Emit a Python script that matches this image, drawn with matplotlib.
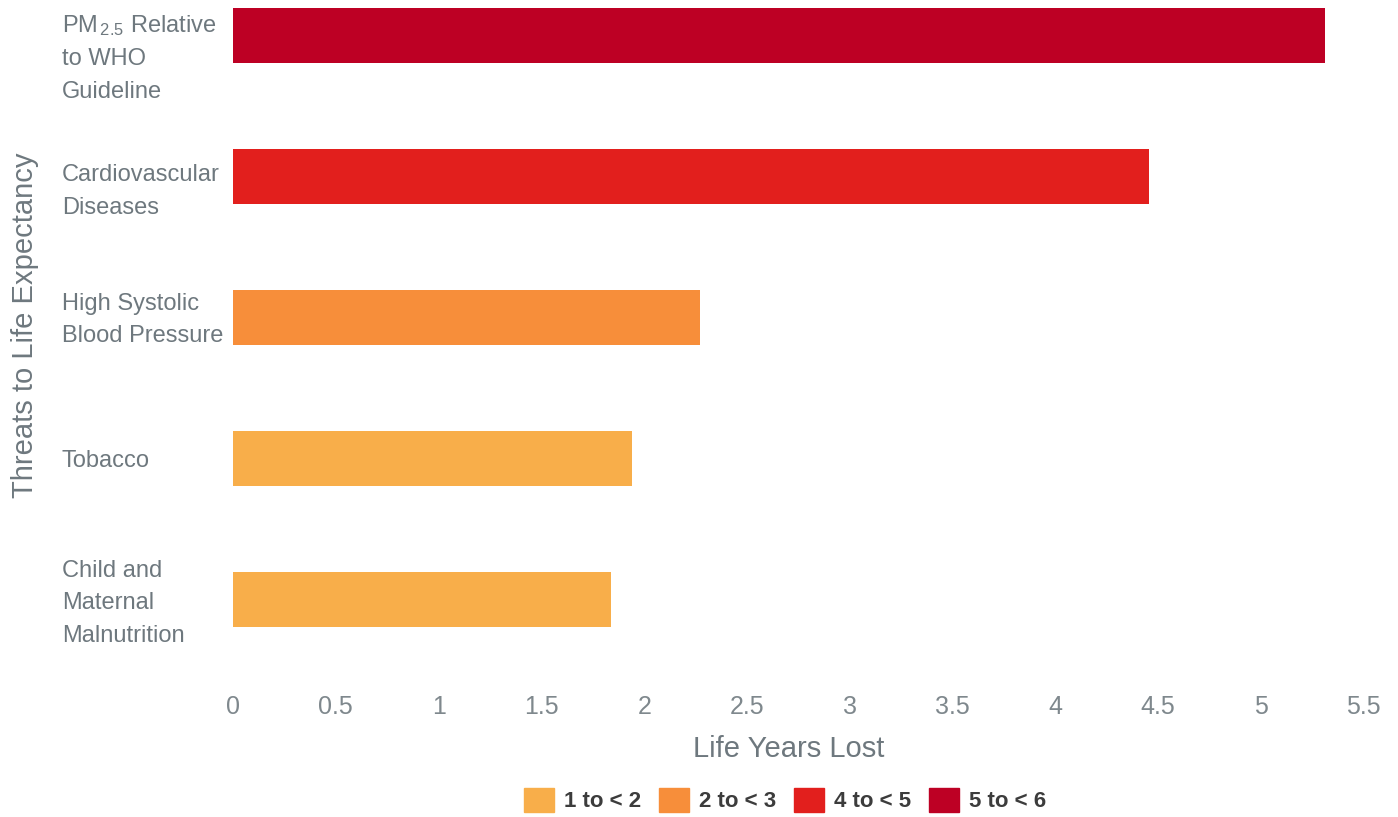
import matplotlib
matplotlib.use("Agg")
import matplotlib.pyplot as plt
import matplotlib.patches as mpatches
import matplotlib.transforms as mtransforms
import numpy as np

plt.rcParams['font.family'] = ['Liberation Sans', 'DejaVu Sans']
plt.rcParams['mathtext.fontset'] = 'custom'
plt.rcParams['mathtext.rm'] = 'Liberation Sans'
plt.rcParams['mathtext.it'] = 'Liberation Sans'

categories = ["PM$_{\\,2.5}$ Relative\nto WHO\nGuideline",
              "Cardiovascular\nDiseases",
              "High Systolic\nBlood Pressure",
              "Tobacco",
              "Child and\nMaternal\nMalnutrition"]
values = [5.31, 4.455, 2.27, 1.94, 1.84]
bins = ["5 to < 6", "4 to < 5", "2 to < 3", "1 to < 2", "1 to < 2"]
legend_labels = ["1 to < 2", "2 to < 3", "4 to < 5", "5 to < 6"]
bin_colors = {"1 to < 2": "#F8AE4A", "2 to < 3": "#F78E3A",
              "4 to < 5": "#E21F1D", "5 to < 6": "#BD0024"}
xticks = [0, 0.5, 1, 1.5, 2, 2.5, 3, 3.5, 4, 4.5, 5, 5.5]
xticklabels = ["0", "0.5", "1", "1.5", "2", "2.5", "3", "3.5", "4", "4.5", "5", "5.5"]

W, H = 1398, 817
fig = plt.figure(figsize=(W / 100, H / 100), dpi=100)
x0px, unit = 233, 205.6
xmax = 5.6
left = x0px / W
right = (x0px + xmax * unit) / W
top_px, bot_px = 0, 660
ax = fig.add_axes([left, 1 - bot_px / H, right - left, (bot_px - top_px) / H])

y = np.arange(len(categories))
ax.barh(y, values, height=0.39, color=[bin_colors[b] for b in bins])
ax.set_xlim(0, xmax)
ax.set_ylim(4 + (660 - 600) / 141, -35 / 141)

for s in ax.spines.values():
    s.set_visible(False)

text_gray = "#6E787E"
ax.set_xticks(xticks)
ax.set_xticklabels(xticklabels, fontsize=18, color="#7F888D")
ax.tick_params(axis='x', length=0, pad=25)

ax.set_yticks(y)
ax.set_yticklabels(categories, fontsize=17, color=text_gray, linespacing=1.6)
ax.tick_params(axis='y', length=0, pad=(x0px - 62) * 0.72)
offsets_pt = [11, 5.5, -3.5, 0, -3]
for lab, off in zip(ax.get_yticklabels(), offsets_pt):
    lab.set_horizontalalignment('left')
    lab.set_transform(lab.get_transform() +
                      mtransforms.ScaledTranslation(0, -off / 72, fig.dpi_scale_trans))

ax.set_xlabel("Life Years Lost", fontsize=21, color=text_gray, labelpad=12)
ax.xaxis.label.set_x(0.483)
fig.text(25 / W, 1 - 325 / H, "Threats to Life Expectancy", rotation=90,
         fontsize=21, color=text_gray, ha='center', va='center')

handles = [mpatches.Patch(color=bin_colors[l]) for l in legend_labels]
fig.legend(handles, legend_labels, loc='center', ncol=4,
           bbox_to_anchor=(785 / W, 1 - 800 / H), frameon=False,
           prop={'size': 16, 'weight': 'bold'}, labelcolor="#3C3C3C",
           handlelength=1.35, handleheight=1.35, handletextpad=0.45,
           columnspacing=0.8, borderpad=0)

fig.savefig("out.png", dpi=100, facecolor="white")
